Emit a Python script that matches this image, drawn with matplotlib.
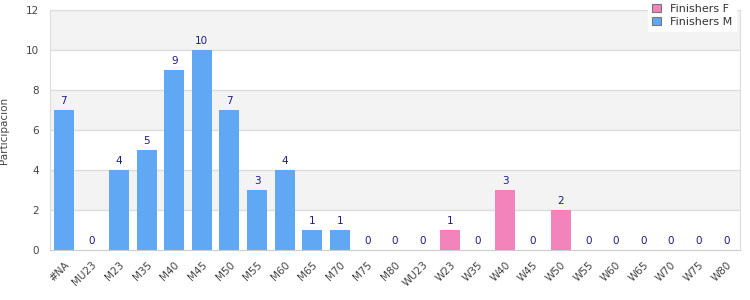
import numpy as np
import matplotlib.pyplot as plt

categories = ["#NA", "MU23", "M23", "M35", "M40", "M45", "M50", "M55", "M60", "M65",
              "M70", "M75", "M80", "WU23", "W23", "W35", "W40", "W45", "W50", "W55",
              "W60", "W65", "W70", "W75", "W80"]
finishers_m = [7, 0, 4, 5, 9, 10, 7, 3, 4, 1, 1, 0, 0, None, None, None, None, None, None, None,
               None, None, None, None, None]
finishers_f = [None, None, None, None, None, None, None, None, None, None, None, None, None,
               0, 1, 0, 3, 0, 2, 0, 0, 0, 0, 0, 0]

BLUE = "#60a8f4"
PINK = "#f283bb"
LABEL = "#1c1c8a"

fig = plt.figure(figsize=(7.5, 3), dpi=100)
ax = fig.add_axes([50 / 750, 50 / 300, 690 / 750, 240 / 300])

x = np.arange(len(categories))

# alternating background bands
for lo in [2, 6, 10]:
    ax.axhspan(lo, lo + 2, color="#f3f3f3", zorder=0, lw=0)
for y in range(2, 13, 2):
    ax.axhline(y, color="#dddddd", lw=1, zorder=1)

for vals, color, name in [(finishers_f, PINK, "Finishers F"), (finishers_m, BLUE, "Finishers M")]:
    idx = [i for i, v in enumerate(vals) if v is not None]
    h = [vals[i] for i in idx]
    ax.bar(x[idx], h, width=0.72, color=color, label=name, zorder=2)
    for i, v in zip(idx, h):
        ax.text(i, v + 0.2, str(v), ha="center", va="bottom", fontsize=7.5, color=LABEL, zorder=3)

ax.set_xlim(-0.5, len(categories) - 0.5)
ax.set_ylim(0, 12)
ax.set_yticks(range(0, 13, 2))
ax.set_xticks(x)
ax.set_xticklabels(categories, rotation=45, ha="right", rotation_mode="anchor")
ax.tick_params(axis="both", labelsize=7.5, colors="#444444", length=0)
ax.tick_params(axis="x", pad=7)
ax.tick_params(axis="y", pad=8)
for side in ["top", "right", "left"]:
    ax.spines[side].set_color("#dddddd")
ax.spines["bottom"].set_color("#cccccc")

ax.set_ylabel("Participación", fontsize=7.5, color="#444444", labelpad=12)

leg = ax.legend(loc="upper right", bbox_to_anchor=(736 / 750, 1.0), bbox_transform=fig.transFigure,
                fontsize=8, frameon=True, fancybox=False, framealpha=1, edgecolor="white",
                handlelength=0.8, handleheight=0.8, borderpad=0.35, labelspacing=0.25,
                borderaxespad=0, handletextpad=0.8)
for t in leg.get_texts():
    t.set_color("#333333")
for p in leg.get_patches():
    p.set_edgecolor("#777777")
    p.set_linewidth(0.8)

fig.savefig("out.png", dpi=100)
